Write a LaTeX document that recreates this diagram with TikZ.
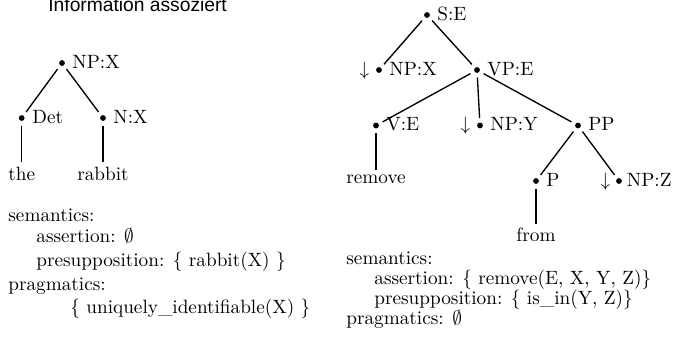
\documentclass[tikz,border=0pt]{standalone}
\usepackage{fontspec}
\newfontfamily\titlefont{Liberation Sans}
\usetikzlibrary{calc}
\begin{document}
\begin{tikzpicture}[x=0.52pt,y=-0.52pt,
  dot/.style={circle,fill,inner sep=0pt,minimum size=3pt,outer sep=2.4pt},
  lab/.style={anchor=base west,inner sep=0pt},
  arr/.style={anchor=base,inner sep=0pt},
  word/.style={anchor=base,inner sep=2pt},
  txt/.style={anchor=base west,inner sep=0pt},
  edge/.style={line width=0.7pt}]
\useasboundingbox (0,0) rectangle (676,346);
% title
\node[txt] (title) at (48,11.5) {\titlefont Information assoziert};
% ---- left tree ----
\node[dot] (npx) at (62,63) {};   \node[lab] (npxl) at (72,68) {NP:X};
\node[dot] (det) at (21.7,118) {};\node[lab] (detl) at (32,123) {Det};
\node[dot] (nx)  at (103,118) {}; \node[lab] (nxl) at (113,123) {N:X};
\node[word] (the) at (21.7,180) {the};
\node[word] (rabbit) at (103,180) {rabbit};
\draw[edge] (npx) -- (det);
\draw[edge] (npx) -- (nx);
\draw[edge] (det) -- (the.north);
\draw[edge] (nx) -- (rabbit.north);
\node[txt] (ls1) at (8,221) {semantics:};
\node[txt] (ls2) at (36,242) {assertion: $\emptyset$};
\node[txt] (ls3) at (36,266) {presupposition: $\{$ rabbit(X) $\}$};
\node[txt] (ls4) at (8,290) {pragmatics:};
\node[txt] (ls5) at (70,313) {$\{$ uniquely\_identifiable(X) $\}$};
% ---- right tree ----
\node[dot] (se)   at (427,15) {};  \node[lab] (sel) at (437,20) {S:E};
\node[dot] (npx2) at (379,70) {};  \node[lab] (npx2l) at (389,75) {NP:X};
\node[arr] (a1) at (364.5,75) {$\downarrow$};
\node[dot] (vpe)  at (477,70) {};  \node[lab] (vpel) at (487,75) {VP:E};
\node[dot] (ve)   at (376,125.5) {}; \node[lab] (vel) at (386,130.5) {V:E};
\node[dot] (npy)  at (480,125.5) {}; \node[lab] (npyl) at (490,130.5) {NP:Y};
\node[arr] (a2) at (465.5,130.5) {$\downarrow$};
\node[dot] (pp)   at (578,125.5) {}; \node[lab] (ppl) at (588,130.5) {PP};
\node[dot] (p)    at (536,181) {};   \node[lab] (pl) at (546,186) {P};
\node[dot] (npz)  at (619,181) {};   \node[lab] (npzl) at (626.5,186) {NP:Z};
\node[arr] (a3) at (605.5,186) {$\downarrow$};
\node[word] (remove) at (376,183) {remove};
\node[word] (from) at (536,241.5) {from};
\draw[edge] (se) -- (npx2);
\draw[edge] (se) -- (vpe);
\draw[edge] (vpe) -- (ve);
\draw[edge] (vpe) -- (npy);
\draw[edge] (vpe) -- (pp);
\draw[edge] (pp) -- (p);
\draw[edge] (pp) -- (npz);
\draw[edge] (ve) -- (remove.north);
\draw[edge] (p) -- (from.north);
\node[txt] (rs1) at (346,264.7) {semantics:};
\node[txt] (rs2) at (374,284.7) {assertion: $\{$ remove(E, X, Y, Z)$\}$};
\node[txt] (rs3) at (374,304.7) {presupposition: $\{$ is\_in(Y, Z)$\}$};
\node[txt] (rs4) at (346,324.7) {pragmatics: $\emptyset$};
\end{tikzpicture}
\end{document}
